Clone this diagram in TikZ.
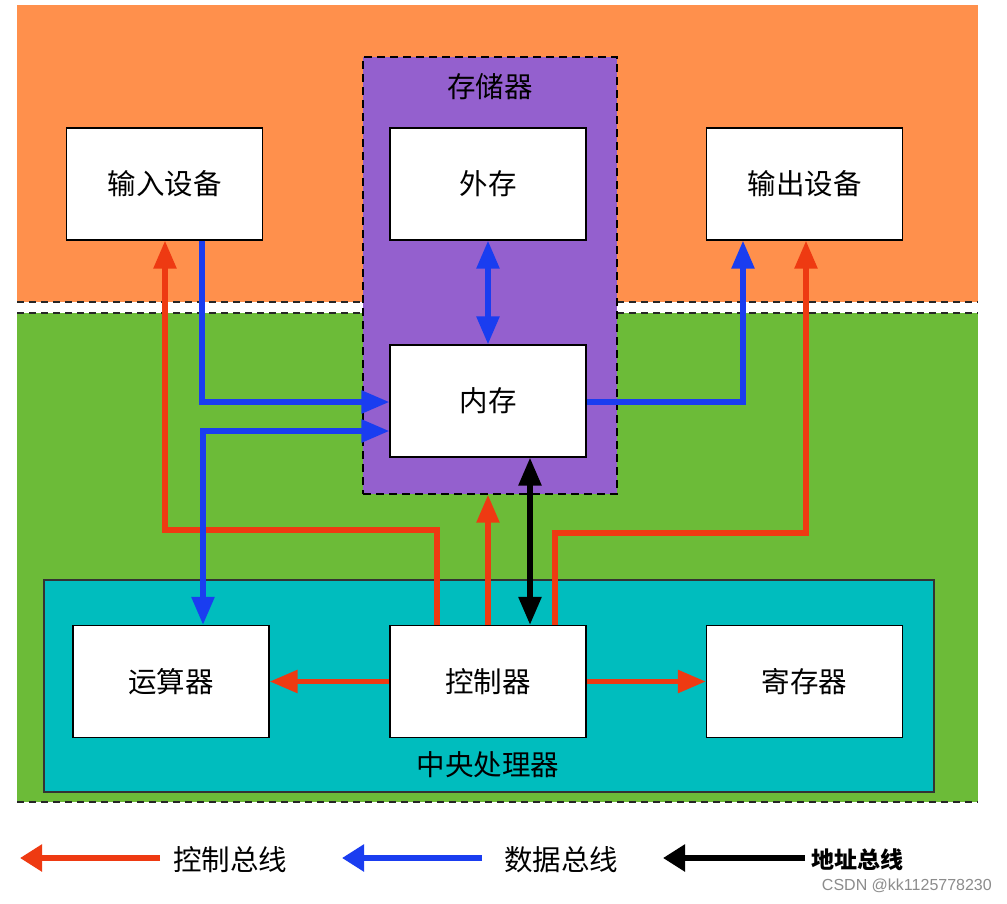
\documentclass[tikz,border=0pt]{standalone}
\usepackage{fontspec}
\usetikzlibrary{arrows.meta}
\newfontfamily\cjk{Noto Sans CJK SC}
\definecolor{bgorange}{HTML}{FF904C}
\definecolor{bggreen}{HTML}{6CBB38}
\definecolor{bgpurple}{HTML}{9460CE}
\definecolor{bgcyan}{HTML}{00BDBE}
\definecolor{cred}{HTML}{EE3A12}
\definecolor{cblue}{HTML}{1A3DF0}
\tikzset{
  unit/.style={draw=black, line width=1.2pt, fill=white, minimum width=196pt, minimum height=112pt, inner sep=0pt, font=\cjk\fontsize{28.5}{32}\selectfont},
  lbl/.style={inner sep=0pt, font=\cjk\fontsize{28.5}{32}\selectfont},
  bus/.style={line width=5.5pt, -{Triangle[length=28pt,width=22pt]}},
  bbus/.style={line width=5.5pt, {Triangle[length=28pt,width=22pt]}-{Triangle[length=28pt,width=22pt]}},
  ctrl/.style={bus, draw=cred, color=cred},
  data/.style={bus, draw=cblue, color=cblue},
  legarrow/.style={line width=6pt, -{Triangle[length=22pt,width=26pt]}},
  sep/.style={dashed, dash pattern=on 7pt off 5pt, line width=1.4pt, draw=black!85}
}
\begin{document}
\begin{tikzpicture}[x=1pt,y=-1pt]
\useasboundingbox (0,0) rectangle (1007,903);
\fill[white] (0,0) rectangle (1007,903);
% zones
\fill[bgorange] (17,5) rectangle (978,302);
\fill[bggreen] (17,313) rectangle (978,802);
\draw[sep] (17,302) -- (978,302);
\draw[sep] (17,313) -- (978,313);
\draw[sep] (17,802) -- (978,802);
% memory group
\node[draw=black, dashed, dash pattern=on 8pt off 5pt, line width=1.4pt, fill=bgpurple, minimum width=254pt, minimum height=437pt, inner sep=0pt] (stor) at (490,275.5) {};
\node[lbl] (storlbl) at (490,87) {存储器};
% CPU group
\node[draw=black!80, line width=1.5pt, fill=bgcyan, minimum width=890pt, minimum height=212pt, inner sep=0pt] (cpu) at (489,686) {};
\node[lbl] (cpulbl) at (488,765) {中央处理器};
% units
\node[unit] (in) at (164.5,184) {输入设备};
\node[unit] (ext) at (488,184) {外存};
\node[unit] (out) at (804.5,184) {输出设备};
\node[unit] (mem) at (488,401) {内存};
\node[unit] (alu) at (171,681.5) {运算器};
\node[unit] (ctl) at (488,681.5) {控制器};
\node[unit] (reg) at (804.5,681.5) {寄存器};
% bend points
\coordinate (bA) at (437,530);
\coordinate (bB) at (165,530);
\coordinate (cA) at (202,402);
\coordinate (cB) at (203,431);
\coordinate (cC) at (743,402);
\coordinate (dA) at (530,500);
\coordinate (eA) at (555,533);
\coordinate (eB) at (806,533);
% control bus
\draw[ctrl] (ctl.north -| bA) -- (bA) -- (bB) -- (in.south -| bB);
\draw[ctrl] (ctl.north) -- (ctl.north |- stor.south);
\draw[ctrl] (ctl.north -| eA) -- (eA) -- (eB) -- (out.south -| eB);
\draw[ctrl] (ctl.west) -- (alu.east);
\draw[ctrl] (ctl.east) -- (reg.west);
% data bus
\draw[data] (in.south -| cA) -- (cA) -- (mem.west |- cA);
\draw[bbus, draw=cblue, color=cblue] (mem.west |- cB) -- (cB) -- (alu.north -| cB);
\draw[data] (mem.east |- cC) -- (cC) -- (out.south -| cC);
\draw[bbus, draw=cblue, color=cblue] (ext.south) -- (mem.north);
% address bus
\draw[bbus, draw=black, color=black] (mem.south -| dA) -- (ctl.north -| dA);
% legend
\coordinate (l1a) at (160,858);
\coordinate (l1b) at (20,858);
\coordinate (l2a) at (482,858);
\coordinate (l2b) at (342,858);
\coordinate (l3a) at (805,858);
\coordinate (l3b) at (663,858);
\draw[legarrow, draw=cred, color=cred] (l1a) -- (l1b);
\draw[legarrow, draw=cblue, color=cblue] (l2a) -- (l2b);
\draw[legarrow, draw=black, color=black] (l3a) -- (l3b);
\node[lbl, anchor=west] (t1) at (173,860) {控制总线};
\node[lbl, anchor=west] (t2) at (504,860) {数据总线};
\node[inner sep=0pt, anchor=west, font=\cjk\bfseries\fontsize{23}{27}\selectfont] (t3) at (811,860) {地址总线};
\node[inner sep=0pt, anchor=east, text=black!45, font={\fontspec{Liberation Sans}\fontsize{16}{19}\selectfont}] (wm) at (992,886) {CSDN @kk1125778230};
\end{tikzpicture}
\end{document}
